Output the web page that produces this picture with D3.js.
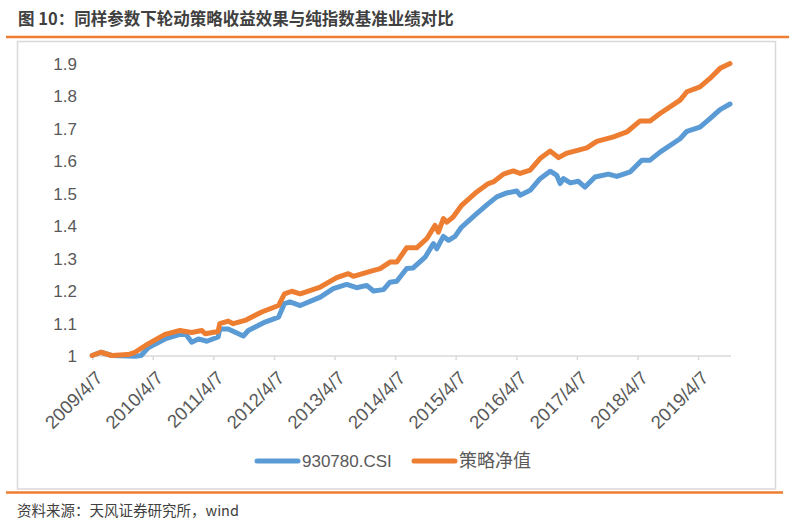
<!DOCTYPE html>
<html><head><meta charset="utf-8">
<script src="https://cdn.jsdelivr.net/npm/d3@7"></script>
<style>body{margin:0;background:#fff;} svg{display:block;}</style>
</head><body><svg id="c" width="795" height="528"></svg>
<script>
const titleText = "图 10：同样参数下轮动策略收益效果与纯指数基准业绩对比";
const sourceText = "资料来源：天风证券研究所，wind";
const seriesNames = ["930780.CSI", "策略净值"];
const yTickValues = [1, 1.1, 1.2, 1.3, 1.4, 1.5, 1.6, 1.7, 1.8, 1.9];
const xTickDates = ["2009-04-07","2010-04-07","2011-04-07","2012-04-07","2013-04-07","2014-04-07","2015-04-07","2016-04-07","2017-04-07","2018-04-07","2019-04-07"];
const xTickLabels = ["2009/4/7","2010/4/7","2011/4/7","2012/4/7","2013/4/7","2014/4/7","2015/4/7","2016/4/7","2017/4/7","2018/4/7","2019/4/7"];

const indexDates = ["2009-04-07","2009-05-29","2009-08-02","2009-12-21","2010-01-27","2010-03-10","2010-06-20","2010-09-18","2010-10-25","2010-11-28","2011-01-07","2011-02-27","2011-05-06","2011-05-16","2011-07-06","2011-10-05","2011-11-04","2012-02-13","2012-05-04","2012-06-09","2012-07-12","2012-09-12","2013-01-11","2013-03-30","2013-06-19","2013-08-18","2013-10-18","2013-11-28","2014-01-27","2014-03-07","2014-04-17","2014-06-16","2014-07-25","2014-10-05","2014-11-24","2014-12-14","2015-01-23","2015-02-23","2015-04-03","2015-05-13","2015-08-12","2015-10-21","2015-12-11","2016-02-09","2016-04-10","2016-04-30","2016-06-29","2016-08-28","2016-10-28","2016-12-07","2016-12-27","2017-01-16","2017-02-26","2017-04-16","2017-05-26","2017-07-25","2017-10-14","2017-12-04","2018-02-23","2018-05-03","2018-06-22","2018-08-21","2018-12-20","2019-01-30","2019-04-19","2019-06-18","2019-08-18","2019-10-17"];
const indexValues = [1.000,1.010,1.000,0.998,1.000,1.024,1.051,1.065,1.065,1.041,1.051,1.044,1.057,1.082,1.082,1.060,1.077,1.103,1.118,1.160,1.165,1.154,1.180,1.206,1.219,1.209,1.216,1.199,1.203,1.226,1.229,1.268,1.270,1.303,1.345,1.329,1.367,1.355,1.367,1.396,1.437,1.468,1.489,1.501,1.507,1.494,1.509,1.545,1.568,1.555,1.530,1.545,1.532,1.537,1.519,1.550,1.559,1.552,1.566,1.602,1.602,1.627,1.668,1.691,1.704,1.730,1.758,1.775];

const strategyDates = ["2009-04-07","2009-05-29","2009-08-02","2009-11-10","2009-12-21","2010-03-10","2010-06-20","2010-09-18","2010-11-28","2011-01-28","2011-02-17","2011-05-06","2011-05-16","2011-07-06","2011-08-05","2011-10-15","2012-01-24","2012-05-04","2012-06-09","2012-07-23","2012-09-12","2013-01-11","2013-04-20","2013-06-29","2013-07-29","2013-11-08","2014-01-07","2014-03-07","2014-04-17","2014-06-16","2014-08-15","2014-10-15","2014-12-04","2014-12-24","2015-01-23","2015-02-13","2015-03-23","2015-05-13","2015-08-12","2015-10-21","2015-11-20","2016-01-20","2016-03-20","2016-04-30","2016-06-29","2016-08-28","2016-10-28","2016-12-17","2017-02-07","2017-06-06","2017-08-05","2017-11-14","2018-02-02","2018-04-23","2018-06-22","2018-08-21","2018-12-20","2019-01-30","2019-04-19","2019-06-18","2019-08-18","2019-10-17"];
const strategyValues = [1.000,1.010,1.000,1.003,1.010,1.036,1.065,1.077,1.071,1.077,1.067,1.074,1.098,1.106,1.098,1.108,1.134,1.154,1.190,1.198,1.190,1.211,1.240,1.252,1.244,1.259,1.268,1.288,1.288,1.332,1.332,1.360,1.401,1.380,1.422,1.411,1.427,1.463,1.504,1.530,1.535,1.559,1.569,1.561,1.571,1.607,1.630,1.610,1.624,1.640,1.660,1.674,1.689,1.723,1.723,1.746,1.787,1.813,1.828,1.854,1.885,1.900];

const blue = "#5B9BD5", orange = "#ED7D31";
const parse = d3.timeParse("%Y-%m-%d");
const latin = "'Liberation Sans', Arial, 'Noto Sans CJK SC', sans-serif";
const cjk = "'Noto Sans CJK SC', 'Liberation Sans', sans-serif";

const svg = d3.select("#c");

// Header
svg.append("text").attr("x", 18).attr("y", 25).text(titleText)
  .attr("font-family", cjk).attr("font-weight", "bold").attr("font-size", 16.5).attr("fill", "#404040");
svg.append("line").attr("x1", 6).attr("x2", 789).attr("y1", 37).attr("y2", 37)
  .attr("stroke", orange).attr("stroke-width", 2.5);
svg.append("rect").attr("x", 17.5).attr("y", 41.5).attr("width", 758).attr("height", 447.5)
  .attr("fill", "none").attr("stroke", "#d9d9d9").attr("stroke-width", 1.5);
svg.append("line").attr("x1", 6).attr("x2", 783).attr("y1", 492.5).attr("y2", 492.5)
  .attr("stroke", orange).attr("stroke-width", 2.5);
svg.append("text").attr("x", 17).attr("y", 515.5).text(sourceText)
  .attr("font-family", cjk).attr("font-size", 14.5).attr("fill", "#404040");

// Scales
const x = d3.scaleTime().domain([parse(xTickDates[0]), parse(xTickDates[xTickDates.length-1])]).range([92.2, 698]);
const y = d3.scaleLinear().domain([1, 1.9]).range([355.5, 63.5]);

// Y labels
const yAxis = d3.axisLeft(y).tickValues(yTickValues).tickSize(0).tickPadding(0).tickFormat(d3.format("~g"));
const gy = svg.append("g").attr("transform", "translate(77,0)").call(yAxis);
gy.select(".domain").remove();
gy.selectAll("text").attr("font-family", latin).attr("font-size", 17).attr("fill", "#595959").attr("dy", "0.35em");

// X axis
const endDate = parse(strategyDates[strategyDates.length-1]);
svg.append("line").attr("x1", x(parse(xTickDates[0])) - 2).attr("x2", x(endDate) + 1)
  .attr("y1", 356).attr("y2", 356).attr("stroke", "#d9d9d9").attr("stroke-width", 1.5);
const xAxis = d3.axisBottom(x).tickValues(xTickDates.map(parse)).tickSize(4)
  .tickFormat((d, i) => xTickLabels[i]);
const gx = svg.append("g").attr("transform", "translate(0,356)").call(xAxis);
gx.select(".domain").remove();
gx.selectAll(".tick line").attr("stroke", "#d9d9d9").attr("stroke-width", 1.5);
gx.selectAll(".tick text")
  .attr("font-family", latin).attr("font-size", 18.5).attr("fill", "#595959")
  .attr("text-anchor", "end").attr("y", 0).attr("dy", 0)
  .attr("transform", "translate(11,23) rotate(-45)");

// Lines
const line = d3.line().x(d => x(d[0])).y(d => y(d[1])).curve(d3.curveLinear);
const indexData = indexDates.map((d, i) => [parse(d), indexValues[i]]);
const stratData = strategyDates.map((d, i) => [parse(d), strategyValues[i]]);
svg.append("path").datum(indexData).attr("d", line).attr("fill", "none")
  .attr("stroke", blue).attr("stroke-width", 5).attr("stroke-linejoin", "round").attr("stroke-linecap", "round");
svg.append("path").datum(stratData).attr("d", line).attr("fill", "none")
  .attr("stroke", orange).attr("stroke-width", 5).attr("stroke-linejoin", "round").attr("stroke-linecap", "round");

// Legend
const legend = [
  {name: seriesNames[0], color: blue, x1: 257, x2: 298, tx: 302, font: latin},
  {name: seriesNames[1], color: orange, x1: 414, x2: 455, tx: 459, font: cjk}
];
legend.forEach(l => {
  svg.append("line").attr("x1", l.x1).attr("x2", l.x2).attr("y1", 461).attr("y2", 461)
    .attr("stroke", l.color).attr("stroke-width", 5).attr("stroke-linecap", "round");
  svg.append("text").attr("x", l.tx).attr("y", 467).text(l.name)
    .attr("font-family", l.font).attr("font-size", l.font === cjk ? 18 : 17).attr("fill", "#595959");
});
</script></body></html>
